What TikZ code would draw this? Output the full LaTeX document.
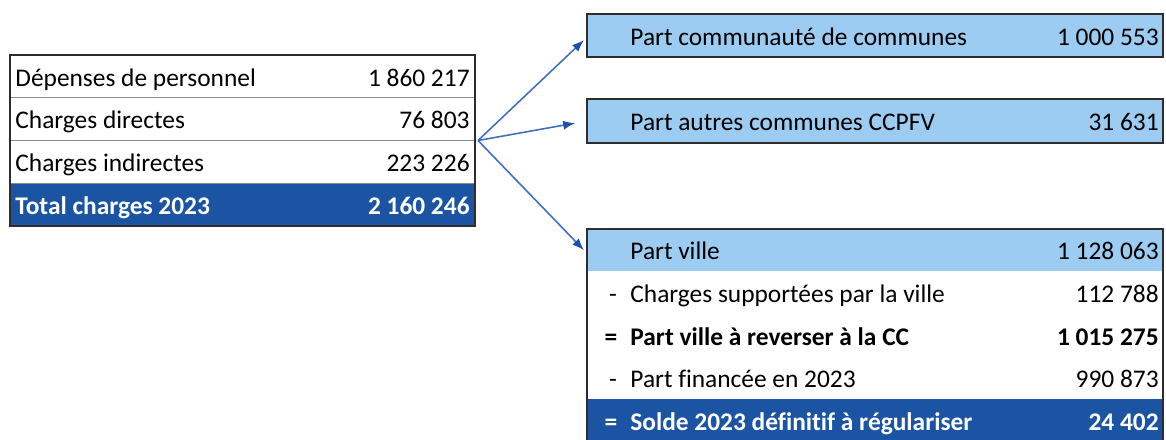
\documentclass[tikz,border=0pt]{standalone}
\usepackage{fontspec}
\setmainfont{Carlito}[Ligatures=NoCommon]
\usetikzlibrary{arrows.meta, positioning}

\definecolor{partblue}{RGB}{157,204,242}
\definecolor{darkblue}{RGB}{28,84,164}
\definecolor{arrowblue}{RGB}{66,112,192}
\definecolor{tipblue}{RGB}{30,80,170}
\definecolor{rulegray}{RGB}{140,140,140}
\definecolor{boxframe}{RGB}{45,45,45}

\begin{document}
\begin{tikzpicture}[
        x=0.5pt, y=0.5pt,
        font=\fontsize{12.7}{15}\selectfont,
        cell/.style={
            inner sep=0pt,
            outer sep=0pt,
            minimum width=232.5pt,
            minimum height=21.375pt
        },
        part/.style={
            draw=boxframe,
            line width=0.7pt,
            fill=partblue,
            inner sep=0pt,
            outer sep=0pt,
            minimum width=288pt,
            minimum height=21.5pt
        },
        vrow/.style={
            inner sep=0pt,
            outer sep=0pt,
            minimum width=288pt,
            minimum height=21.25pt
        },
        txt/.style={inner sep=0pt, text height=9.75pt, text depth=0pt},
        boldtxt/.style={txt, font=\fontsize{12.7}{15}\selectfont\bfseries},
        whitetxt/.style={boldtxt, text=white},
        frame/.style={draw=boxframe, line width=0.7pt},
        arrow/.style={-{Latex[length=6pt, width=4.5pt, color=tipblue]}, line width=0.8pt, draw=arrowblue}
    ]
        \useasboundingbox (0,0) rectangle (1166,439);

        % left table: total charges
        \node[cell] (pers) at (242.5,362.625) {};
        \node[cell, below=0pt of pers] (dir) {};
        \node[cell, below=0pt of dir] (ind) {};
        \node[cell, fill=darkblue, below=0pt of ind] (total) {};
        \draw[rulegray, line width=0.6pt] (pers.south west) -- (pers.south east)
            (dir.south west) -- (dir.south east)
            (ind.south west) -- (ind.south east);
        \draw[frame] (pers.north west) rectangle (total.south east);

        \node[txt, right=2.5pt of pers.west] (pers-lbl) {Dépenses de personnel};
        \node[txt, left=2.5pt of pers.east] (pers-val) {1 860 217};
        \node[txt, right=2.5pt of dir.west] (dir-lbl) {Charges directes};
        \node[txt, left=2.5pt of dir.east] (dir-val) {76 803};
        \node[txt, right=2.5pt of ind.west] (ind-lbl) {Charges indirectes};
        \node[txt, left=2.5pt of ind.east] (ind-val) {223 226};
        \node[whitetxt, right=2.5pt of total.west] (total-lbl) {Total charges 2023};
        \node[whitetxt, left=2.5pt of total.east] (total-val) {2 160 246};

        % right: shares
        \node[part] (cc) at (875,403.5) {};
        \node[txt, right=21.5pt of cc.west] (cc-lbl) {Part communauté de communes};
        \node[txt, left=2pt of cc.east] (cc-val) {1 000 553};

        \node[part, minimum height=22pt] (ccpfv) at (875,318) {};
        \node[txt, right=21.5pt of ccpfv.west] (ccpfv-lbl) {Part autres communes CCPFV};
        \node[txt, left=2pt of ccpfv.east] (ccpfv-val) {31 631};

        % right: city share
        \node[vrow, fill=partblue] (ville) at (875,188.75) {};
        \node[vrow, below=0pt of ville] (supp) {};
        \node[vrow, below=0pt of supp] (rev) {};
        \node[vrow, below=0pt of rev] (fin) {};
        \node[vrow, fill=darkblue, below=0pt of fin] (solde) {};
        \draw[frame] (ville.north west) rectangle (solde.south east);

        \node[txt, right=21.5pt of ville.west] (ville-lbl) {Part ville};
        \node[txt, left=2pt of ville.east] (ville-val) {1 128 063};
        \node[txt] (supp-sgn) at ([xshift=13pt]supp.west) {-};
        \node[txt, right=21.5pt of supp.west] (supp-lbl) {Charges supportées par la ville};
        \node[txt, left=2pt of supp.east] (supp-val) {112 788};
        \node[boldtxt] (rev-sgn) at ([xshift=12pt]rev.west) {=};
        \node[boldtxt, right=21.5pt of rev.west] (rev-lbl) {Part ville à reverser à la CC};
        \node[boldtxt, left=2pt of rev.east] (rev-val) {1 015 275};
        \node[txt] (fin-sgn) at ([xshift=13pt]fin.west) {-};
        \node[txt, right=21.5pt of fin.west] (fin-lbl) {Part financée en 2023};
        \node[txt, left=2pt of fin.east] (fin-val) {990 873};
        \node[whitetxt] (solde-sgn) at ([xshift=12pt]solde.west) {=};
        \node[whitetxt, right=21.5pt of solde.west] (solde-lbl) {Solde 2023 définitif à régulariser};
        \node[whitetxt, left=2pt of solde.east] (solde-val) {24 402};

        \draw[arrow] ([xshift=1.5pt]dir.south east) -- ([xshift=-1.5pt, yshift=-2.25pt]cc.west);
        \draw[arrow, shorten >=6pt] ([xshift=1.5pt]dir.south east) -- (ccpfv.west);
        \draw[arrow] ([xshift=1.5pt]dir.south east) -- ([xshift=-1.5pt]ville.west);
    \end{tikzpicture}
\end{document}
